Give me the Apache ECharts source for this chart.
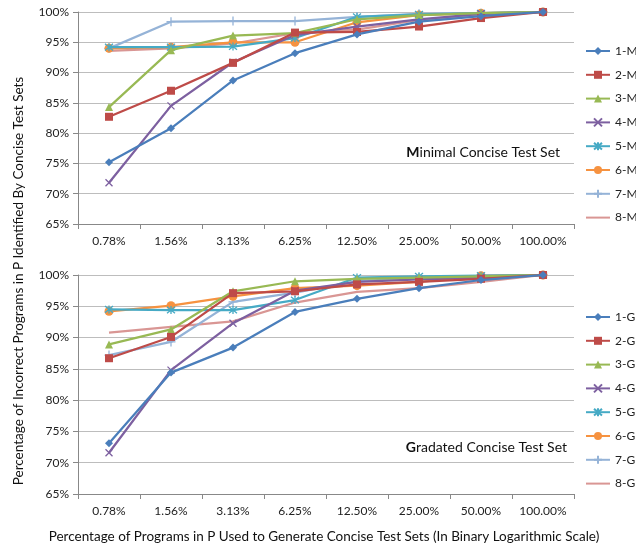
<!DOCTYPE html>
<html>
<head>
<meta charset="utf-8">
<script src="https://cdn.jsdelivr.net/npm/echarts@6/dist/echarts.min.js"></script>
<style>
  html, body { margin: 0; padding: 0; background: #fff; }
  #chart { width: 636px; height: 547px; }
</style>
</head>
<body>
<div id="chart"></div>
<script>
// categorias del eje x (escala logaritmica binaria)
var categorias = ["0.78%", "1.56%", "3.13%", "6.25%", "12.50%", "25.00%", "50.00%", "100.00%"];

// conjunto minimo (M)
var m1 = [75.2, 80.8, 88.7, 93.2, 96.3, 98.4, 99.3, 100];
var m2 = [82.7, 87.0, 91.6, 96.6, 96.7, 97.6, 99.0, 100];
var m3 = [84.3, 93.7, 96.1, 96.5, 98.8, 99.5, 99.8, 100];
var m4 = [71.8, 84.5, 91.7, 96.2, 97.6, 98.8, 99.7, 100];
var m5 = [94.2, 94.2, 94.3, 95.7, 99.2, 99.6, 99.8, 100];
var m6 = [94.0, 94.2, 95.0, 95.0, 98.3, 99.5, 99.8, 100];
var m7 = [94.0, 98.4, 98.5, 98.5, 99.2, 99.7, 99.8, 100];
var m8 = [93.6, 94.0, 94.8, 96.5, 97.1, 98.7, 99.5, 100];

// conjunto graduado (G)
var g1 = [73.1, 84.4, 88.4, 94.1, 96.2, 97.9, 99.2, 100];
var g2 = [86.7, 90.1, 97.1, 97.4, 98.5, 98.9, 99.4, 100];
var g3 = [88.9, 91.3, 97.4, 99.0, 99.4, 99.6, 99.8, 100];
var g4 = [71.6, 84.8, 92.3, 97.5, 98.9, 99.3, 99.6, 100];
var g5 = [94.5, 94.4, 94.4, 96.0, 99.6, 99.8, 99.9, 100];
var g6 = [94.2, 95.1, 96.6, 97.9, 98.3, 98.9, 99.9, 100];
var g7 = [87.2, 89.3, 95.7, 97.2, 99.0, 99.6, 99.7, 100];
var g8 = [90.8, 91.7, 92.6, 95.6, 97.3, 97.9, 98.9, 100];

var nombresM = ["1-M", "2-M", "3-M", "4-M", "5-M", "6-M", "7-M", "8-M"];
var nombresG = ["1-G", "2-G", "3-G", "4-G", "5-G", "6-G", "7-G", "8-G"];

var colores = ["#4A7EBB", "#BE4B48", "#98B954", "#7D60A0", "#46AAC5", "#F69240", "#95B3D7", "#D99694"];

// simbolos estilo Excel
var simbolos = [
  "diamond",
  "rect",
  "triangle",
  "path://M0 0 L10 10 M10 0 L0 10",
  "path://M0 0 L10 10 M10 0 L0 10 M5 -1 L5 11",
  "circle",
  "path://M5 0 L5 10 M0 5 L10 5",
  "none"
];
var tamanos = [8, 8, 8, 7, 8, 9, 9, 0];
var trazo = [false, false, false, true, true, false, true, false];

var fuente = "Lato";

function crearSerie(nombre, datos, i, eje) {
  return {
    name: nombre,
    type: "line",
    xAxisIndex: eje,
    yAxisIndex: eje,
    data: datos,
    symbol: simbolos[i],
    symbolSize: tamanos[i],
    showSymbol: simbolos[i] !== "none",
    z: 10 - i,
    lineStyle: { color: colores[i], width: 2.25 },
    itemStyle: trazo[i]
      ? { color: "rgba(0,0,0,0)", borderColor: colores[i], borderWidth: 1.3 }
      : { color: colores[i], borderWidth: 0 },
    emphasis: { disabled: true },
    animation: false
  };
}

var series = [];
var datosM = [m1, m2, m3, m4, m5, m6, m7, m8];
var datosG = [g1, g2, g3, g4, g5, g6, g7, g8];
for (var i = 0; i < 8; i++) series.push(crearSerie(nombresM[i], datosM[i], i, 0));
for (var j = 0; j < 8; j++) series.push(crearSerie(nombresG[j], datosG[j], j, 1));

function ejeX(indice) {
  return {
    type: "category",
    gridIndex: indice,
    data: categorias,
    boundaryGap: true,
    axisLine: { lineStyle: { color: "#888888", width: 1 } },
    axisTick: { show: true, length: 5, lineStyle: { color: "#888888" } },
    axisLabel: { color: "#222", fontFamily: fuente, fontSize: 12, margin: 11 }
  };
}

function ejeY(indice) {
  return {
    type: "value",
    gridIndex: indice,
    min: 65,
    max: 100,
    interval: 5,
    axisLine: { show: true, lineStyle: { color: "#888888", width: 1 } },
    axisTick: { show: true, length: 5, lineStyle: { color: "#888888" } },
    splitLine: { lineStyle: { color: "#BDBDBD", width: 1 } },
    axisLabel: {
      color: "#222",
      fontFamily: fuente,
      fontSize: 12,
      margin: 9,
      formatter: function (v) { return v + "%"; }
    }
  };
}

function leyenda(nombres, arriba) {
  // la ultima serie no tiene marcador, tampoco en la leyenda
  var datos = nombres.map(function (n, k) {
    return k === 7 ? { name: n, itemStyle: { opacity: 0 } } : n;
  });
  return {
    data: datos,
    orient: "vertical",
    left: 585,
    top: arriba,
    padding: 0,
    itemWidth: 24,
    itemHeight: 10,
    itemGap: 11.8,
    textStyle: { fontFamily: fuente, fontSize: 12, color: "#222" },
    selectedMode: false
  };
}

function titulo(letra, resto, derecha, arriba) {
  return {
    text: "{b|" + letra + "}" + resto,
    right: derecha,
    top: arriba,
    padding: 0,
    textStyle: {
      fontFamily: fuente,
      fontSize: 14,
      fontWeight: "normal",
      color: "#111",
      rich: { b: { fontFamily: fuente, fontSize: 14, fontWeight: "bold", color: "#111" } }
    }
  };
}

var option = {
  backgroundColor: "#fff",
  animation: false,
  title: [
    titulo("M", "inimal Concise Test Set", 76, 145),
    titulo("G", "radated Concise Test Set", 69, 440)
  ],
  legend: [leyenda(nombresM, 45), leyenda(nombresG, 311)],
  grid: [
    { left: 78, right: 62, top: 12, height: 212 },
    { left: 78, right: 62, top: 275, height: 219 }
  ],
  xAxis: [ejeX(0), ejeX(1)],
  yAxis: [ejeY(0), ejeY(1)],
  graphic: [
    {
      type: "text",
      x: 19,
      y: 281,
      rotation: Math.PI / 2,
      style: {
        text: "Percentage of Incorrect Programs in P Identified By Concise Test Sets",
        fontFamily: fuente,
        fontSize: 13.5,
        fill: "#111",
        align: "center",
        verticalAlign: "middle"
      }
    },
    {
      type: "text",
      x: 324,
      y: 537,
      style: {
        text: "Percentage of Programs in P Used to Generate Concise Test Sets (In Binary Logarithmic Scale)",
        fontFamily: fuente,
        fontSize: 13.5,
        fill: "#111",
        align: "center",
        verticalAlign: "middle"
      }
    }
  ],
  series: series
};

var dom = document.getElementById("chart");
var myChart = echarts.init(dom, null, { renderer: "canvas" });
myChart.setOption(option);
</script>
</body>
</html>
